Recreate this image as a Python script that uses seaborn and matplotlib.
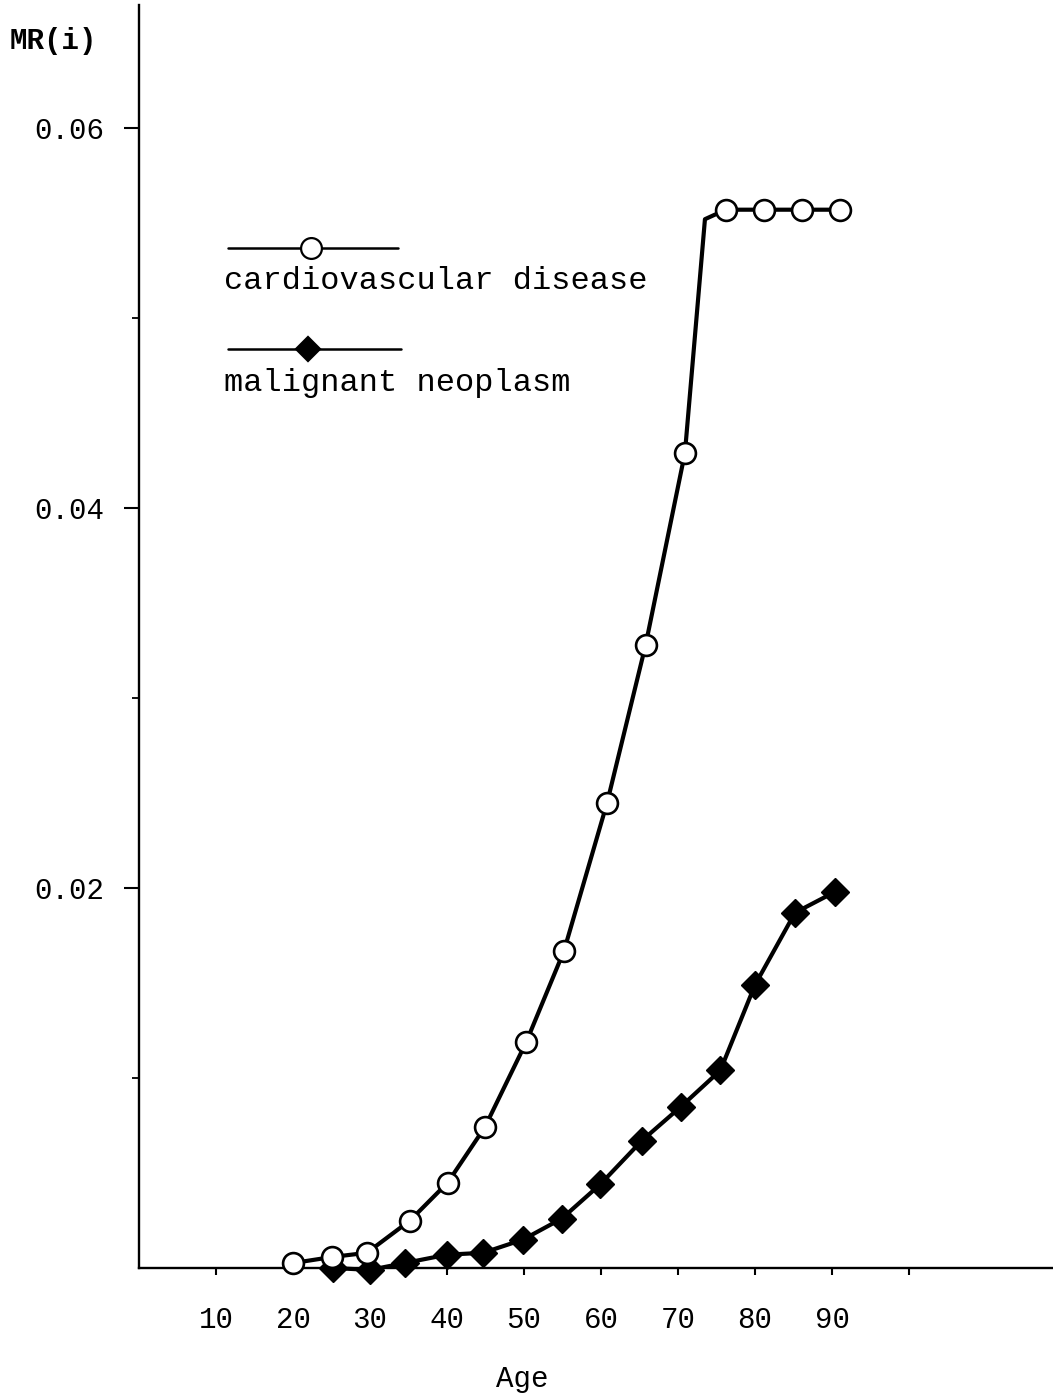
import matplotlib
matplotlib.use("Agg")
import matplotlib.pyplot as plt
import seaborn as sns
import pandas as pd

# Mortality rate MR(i) by age
cvd_age = [20.0, 25.1, 29.6, 35.2, 40.1, 44.9, 50.3, 55.2, 60.8, 65.8, 70.9, 76.2, 81.2, 86.1, 91.0]
cvd_rate = [0.00026, 0.00058, 0.0008, 0.0025, 0.0045, 0.0074, 0.0119, 0.0167, 0.0245,
            0.0328, 0.0429, 0.0557, 0.0557, 0.0557, 0.0557]

# hand-drawn trace of the cardiovascular curve (bends just before 75)
cvd_line_age = [20.0, 25.1, 29.6, 35.2, 40.1, 44.9, 50.3, 55.2, 60.8, 65.8, 70.9, 73.5,
                76.2, 81.2, 86.1, 91.0]
cvd_line_rate = [0.00026, 0.00058, 0.0008, 0.0025, 0.0045, 0.0074, 0.0119, 0.0167, 0.0245,
                 0.0328, 0.0429, 0.0552, 0.0557, 0.0557, 0.0557, 0.0557]

neo_age = [25.2, 30.0, 34.5, 40.0, 44.7, 49.9, 54.9, 59.9, 65.3, 70.4, 75.5, 80.0, 85.2, 90.4]
neo_rate = [0.0, -0.0001, 0.00026, 0.0007, 0.0008, 0.0015, 0.0026, 0.0044, 0.0067,
            0.0085, 0.0104, 0.0149, 0.0187, 0.0198]

x_ticks = [10, 20, 30, 40, 50, 60, 70, 80, 90, 100]
x_tick_labels = ["10", "20", "30", "40", "50", "60", "70", "80", "90", ""]
y_ticks = [0.02, 0.04, 0.06]
y_tick_labels = ["0.02", "0.04", "0.06"]
y_minor_ticks = [0.01, 0.03, 0.05]

series_names = ["cardiovascular disease", "malignant neoplasm"]

sns.set_style("ticks")
plt.rcParams["font.family"] = ["Liberation Mono", "DejaVu Sans Mono"]
plt.rcParams["text.color"] = "black"
plt.rcParams["axes.labelcolor"] = "black"
plt.rcParams["xtick.color"] = "black"
plt.rcParams["ytick.color"] = "black"

fig = plt.figure(figsize=(10.53, 13.95), dpi=100)
ax = fig.add_axes([139 / 1053, 1 - 1268 / 1395, 914 / 1053, 1263 / 1395])

lw = 3.0
# malignant neoplasm
sns.lineplot(x=neo_age, y=neo_rate, ax=ax, color="black", lw=lw, zorder=3,
             clip_on=False, estimator=None, sort=False)
ax.plot(neo_age, neo_rate, ls="none", marker="D", markersize=14,
        markerfacecolor="black", markeredgecolor="black", zorder=4, clip_on=False)

# cardiovascular disease
sns.lineplot(x=cvd_line_age, y=cvd_line_rate, ax=ax, color="black", lw=lw, zorder=5,
             clip_on=False, estimator=None, sort=False)
ax.plot(cvd_age, cvd_rate, ls="none", marker="o", markersize=15,
        markerfacecolor="white", markeredgecolor="black", markeredgewidth=1.9,
        zorder=6, clip_on=False)

ax.set_xlim(0, 914 / 7.7)
ax.set_ylim(0, 1263 / 19000)

for side in ["top", "right"]:
    ax.spines[side].set_visible(False)
for side in ["left", "bottom"]:
    ax.spines[side].set_linewidth(1.7)
    ax.spines[side].set_color("black")

ax.set_xticks(x_ticks)
ax.set_xticklabels(x_tick_labels)
ax.set_yticks(y_ticks)
ax.set_yticklabels(y_tick_labels)
ax.set_yticks(y_minor_ticks, minor=True)

ax.tick_params(axis="x", which="major", direction="out", length=5, width=1.5,
               pad=22, labelsize=21, colors="black")
ax.tick_params(axis="y", which="major", direction="out", length=11, width=1.5,
               pad=14, labelsize=21, colors="black")
ax.tick_params(axis="y", which="minor", direction="out", length=5, width=1.3,
               colors="black")

ax.set_xlabel("")
ax.set_ylabel("")

# axis titles
fig.text(10 / 1053, 1 - 49 / 1395, "MR(i)", fontsize=21, ha="left", va="baseline",
         color="black", fontweight="bold")
fig.text(522 / 1053, 1 - 1387 / 1395, "Age", fontsize=21, ha="center", va="baseline",
         color="black")

# legend drawn as stacked key / label pairs
key_specs = [
    dict(y=0.8076, x0=0.0974, x1=0.2834, xm=0.188, marker="o", fc="white", ms=15),
    dict(y=0.7276, x0=0.0974, x1=0.2867, xm=0.185, marker="D", fc="black", ms=12),
]
label_baselines = [0.7751, 0.6944]
for spec, name, yb in zip(key_specs, series_names, label_baselines):
    ax.plot([spec["x0"], spec["x1"]], [spec["y"], spec["y"]], color="black", lw=1.8,
            transform=ax.transAxes, clip_on=False)
    ax.plot([spec["xm"]], [spec["y"]], ls="none", marker=spec["marker"],
            markersize=spec["ms"], markerfacecolor=spec["fc"], markeredgecolor="black",
            markeredgewidth=1.6, transform=ax.transAxes, clip_on=False, zorder=6)
    ax.text(0.093, yb, name, transform=ax.transAxes, fontsize=23, ha="left",
            va="baseline", color="black")

fig.savefig("out.png", dpi=100, facecolor="white")
